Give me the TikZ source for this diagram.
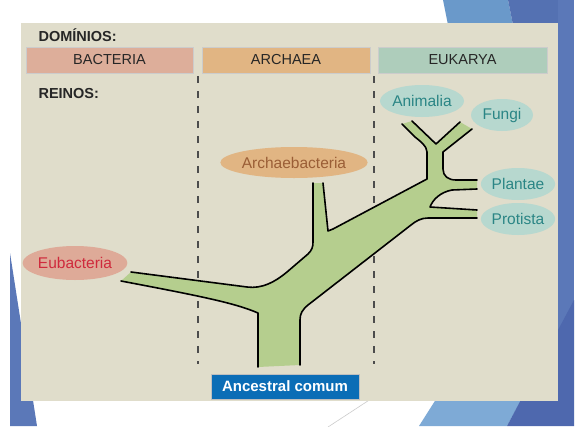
\documentclass[tikz,border=0pt]{standalone}
\usepackage{fontspec}
\setmainfont{Liberation Sans}
\usetikzlibrary{shapes.geometric}
\definecolor{painel}{HTML}{E0DDCB}
\definecolor{c-bact}{HTML}{DDAE9A}
\definecolor{c-arch}{HTML}{E1B583}
\definecolor{c-euk}{HTML}{AECDBB}
\definecolor{c-teal}{HTML}{B7D8CF}
\definecolor{t-teal}{HTML}{2A8585}
\definecolor{t-arch}{HTML}{9A5E36}
\definecolor{t-eub}{HTML}{CF2A3C}
\definecolor{c-eub}{HTML}{DEAA98}
\definecolor{c-anc}{HTML}{0B6DB6}
\definecolor{verde}{HTML}{B5CE8E}
\definecolor{azul-a}{HTML}{6A99CA}
\definecolor{azul-b}{HTML}{5471B2}
\definecolor{azul-c}{HTML}{5B78B8}
\definecolor{azul-d}{HTML}{7EAAD6}
\definecolor{azul-e}{HTML}{4E68AE}
\tikzset{
  dom-box/.style={draw=black!20,line width=0.8pt,minimum height=26pt,inner sep=0pt,font=\fontsize{14.5}{16}\selectfont,text=black!85},
  reino-e/.style={ellipse,minimum height=32pt,inner sep=0pt,font=\fontsize{15.5}{17}\selectfont},
  reino-t/.style={reino-e,fill=c-teal,text=t-teal},
  titulo/.style={anchor=west,font=\fontsize{14.5}{16}\selectfont\bfseries,text=black!85},
  divisa/.style={draw=black!70,line width=1.2pt,dash pattern=on 7pt off 8pt},
  ramo/.style={draw=black,line width=1.6pt,line join=round,line cap=round},
}

\begin{document}
\begin{tikzpicture}[x=1pt,y=-1pt]
  \useasboundingbox (0,0) rectangle (578,426);

  % fundo do slide
  \fill[white] (0,0) rectangle (578,426);
  \fill[azul-a] (443,0) -- (508,0) -- (520,60) -- (455,60) -- cycle;
  \fill[azul-b] (508,0) -- (562,0) -- (562,60) -- (520,60) -- cycle;
  \fill[azul-c] (558,0) rectangle (574,426);
  \fill[azul-d] (419,426) -- (480,330) -- (560,330) -- (507,426) -- cycle;
  \fill[azul-e] (507,426) -- (574,300) -- (574,426) -- cycle;
  \fill[azul-c] (10,253) -- (37,426) -- (10,426) -- cycle;
  \draw[black!20,line width=0.6pt] (380,393) -- (328,427);
  \fill[painel] (21,23) rectangle (558,401);

  % DOMINIOS
  \node[titulo] (tdom) at (35,35) {DOMÍNIOS:};
  \node[dom-box,fill=c-bact,minimum width=167pt] (bact) at (109.5,60) {BACTERIA};
  \node[dom-box,fill=c-arch,minimum width=168pt] (arch) at (286,60)   {ARCHAEA};
  \node[dom-box,fill=c-euk,minimum width=169pt]  (euk)  at (462.5,60) {EUKARYA};
  \node[titulo] (trei) at (35,94) {REINOS:};

  \draw[divisa] (198,76) -- (198,364);
  \draw[divisa] (374,76) -- (374,364);

  % ARVORE
  \fill[verde] (258,367) -- (258,313) .. controls (235,303) and (200,296) .. (121,281)
    -- (131,272) -- (247,287) .. controls (262,289) and (275,282) .. (287,272)
    -- (308,254) .. controls (312,250) and (313,247) .. (313,242) -- (313,183)
    -- (323,183) -- (328,231) -- (333,229) -- (427,179) -- (427,152)
    .. controls (427,146) and (420,141) .. (415,137) -- (402,124) -- (412,121)
    -- (436,144) -- (460,122) -- (472,129) -- (443,152) -- (443,169)
    .. controls (443,176) and (448,180) .. (456,180) -- (477,180) -- (477,189)
    -- (452,190) .. controls (441,192) and (433,199) .. (430,207) -- (477,210)
    -- (477,218) -- (428,218) .. controls (421,218) and (416,221) .. (411,225)
    -- (308,305) .. controls (302,310) and (300,314) .. (300,320) -- (300,365) -- cycle;
  \draw[ramo] (258,367) -- (258,313) .. controls (235,303) and (200,296) .. (121,281);
  \draw[ramo] (131,272) -- (247,287) .. controls (262,289) and (275,282) .. (287,272)
    -- (308,254) .. controls (312,250) and (313,247) .. (313,242) -- (313,183);
  \draw[ramo] (323,183) -- (328,231) -- (333,229) -- (427,179) -- (427,152)
    .. controls (427,146) and (420,141) .. (415,137) -- (402,124);
  \draw[ramo] (412,121) -- (436,144) -- (460,122);
  \draw[ramo] (472,129) -- (443,152) -- (443,169)
    .. controls (443,176) and (448,180) .. (456,180) -- (477,180);
  \draw[ramo] (477,189) -- (452,190) .. controls (441,192) and (433,199) .. (430,207) -- (477,210);
  \draw[ramo] (477,218) -- (428,218) .. controls (421,218) and (416,221) .. (411,225)
    -- (308,305) .. controls (302,310) and (300,314) .. (300,320) -- (300,365);

  % REINOS
  \node[reino-e,fill=c-eub,text=t-eub,minimum width=99pt,minimum height=34pt] (eub) at (75,263) {Eubacteria};
  \node[reino-e,fill=c-arch,text=t-arch,minimum width=140pt,minimum height=31pt] (archb) at (294,162.5) {Archaebacteria};
  \node[reino-t,minimum width=83pt] (anim) at (422,101) {Animalia};
  \node[reino-t,minimum width=62pt] (fung) at (502,115) {Fungi};
  \node[reino-t,minimum width=72pt] (plan) at (518,184) {Plantae};
  \node[reino-t,minimum width=73pt] (prot) at (518,219) {Protista};

  \node[fill=c-anc,draw=black!25,line width=0.8pt,minimum width=148pt,minimum height=25pt,inner sep=0pt,text=white,font=\fontsize{15}{17}\selectfont\bfseries] (anc) at (285,386.5) {Ancestral comum};

\end{tikzpicture}
\end{document}
